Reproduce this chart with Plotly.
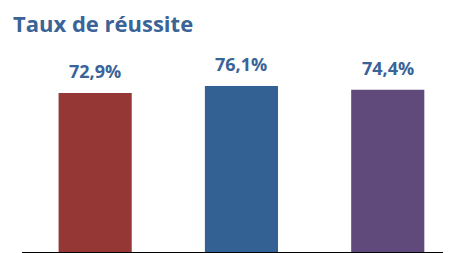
import plotly.graph_objects as go

categories = ["A", "B", "C"]
values = [72.9, 76.1, 74.4]
labels = ["72,9%", "76,1%", "74,4%"]
colors = ["#953735", "#346194", "#604A7B"]
title_text = "Taux de réussite"
text_color = "#3A6397"

# page body has an 8px default margin; offsets below compensate for it
L, T, B = 14, 26, 9
W, H = 451, 253
pw = W - L
ph = H - T - B

fig = go.Figure()
fig.add_trace(go.Bar(
    x=list(range(len(categories))), y=values,
    marker=dict(color=colors, line=dict(width=0)),
    width=0.5, hoverinfo="skip",
))
for i, (v, t) in enumerate(zip(values, labels)):
    fig.add_annotation(x=i, y=v, text=f"<b>{t}</b>", showarrow=False,
                       xref="x", yref="y", yanchor="bottom", yshift=8,
                       font=dict(family="Open Sans", size=18, color=text_color))

fig.add_annotation(text=f"<b>{title_text}</b>", showarrow=False,
                   xref="paper", yref="paper", x=(3 - L) / pw, xanchor="left",
                   y=1 + 28 / ph, yanchor="top",
                   font=dict(family="Open Sans", size=22, color=text_color))

fig.update_layout(
    width=W, height=H,
    margin=dict(l=L, r=0, t=T, b=B),
    paper_bgcolor="white", plot_bgcolor="white",
    showlegend=False,
    xaxis=dict(range=[-0.5, -0.5 + pw / 146.3], showticklabels=False, showgrid=False,
               zeroline=False, showline=True, linecolor="black", linewidth=2,
               ticks=""),
    yaxis=dict(range=[0, 100], visible=False, showgrid=False, zeroline=False),
)
fig.write_html("out.html")
